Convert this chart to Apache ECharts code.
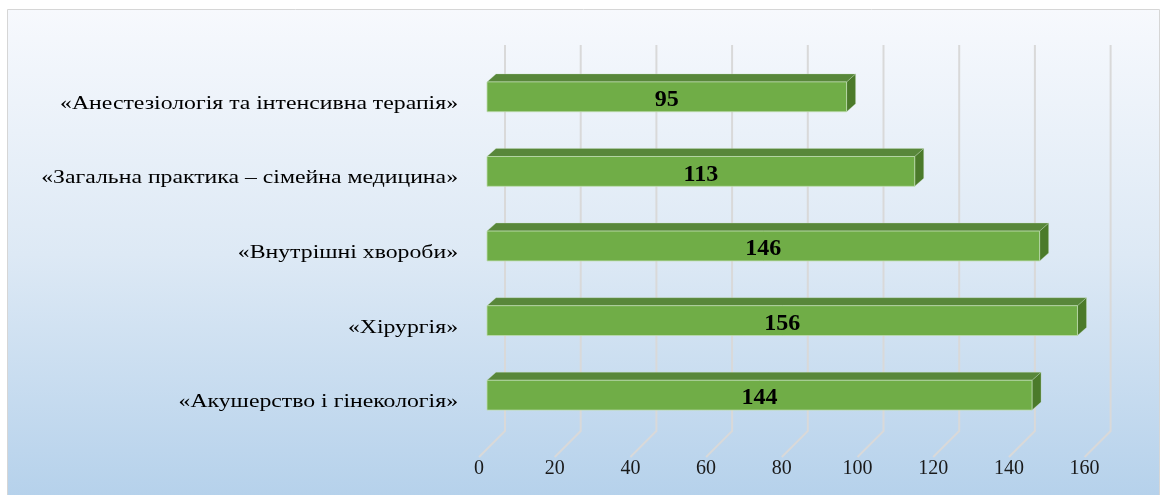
<!DOCTYPE html>
<html>
<head>
<meta charset="utf-8">
<script src="https://cdn.jsdelivr.net/npm/echarts@6/dist/echarts.min.js"></script>
<style>
html,body{margin:0;padding:0;background:#fff;}
#c{width:1163px;height:495px;}
</style>
</head>
<body>
<div id="c"></div>
<script>
const categories = [
  '«Анестезіологія та інтенсивна терапія»',
  '«Загальна практика – сімейна медицина»',
  '«Внутрішні хвороби»',
  '«Хірургія»',
  '«Акушерство і гінекологія»'
];
const values = [95, 113, 146, 156, 144];
const xTicks = [0, 20, 40, 60, 80, 100, 120, 140, 160];

const SERIF = '"Liberation Serif", "Times New Roman", serif';
const DX = 9, DY = -8;          // bar depth offset
const WALL_DX = 18;             // back wall offset from bar front
const FLOOR = 26;               // floor depth (45°)
const LABEL_GAP = 29;           // gap between category label and bar start
const LABEL_SCALE_X = 1.25;     // horizontal stretch of category labels

const chart = echarts.init(document.getElementById('c'), null, {renderer: 'canvas'});

chart.setOption({
  animation: false,
  graphic: [{
    type: 'rect', z: -10, silent: true,
    shape: {x: 7.5, y: 9.5, width: 1152, height: 490},
    style: {
      fill: new echarts.graphic.LinearGradient(0, 0, 0, 1, [
        {offset: 0, color: '#f7f9fd'},
        {offset: 0.5, color: '#dde9f5'},
        {offset: 1, color: '#b5d1eb'}
      ]),
      stroke: '#d6d6d6', lineWidth: 1
    }
  }],
  grid: [
    {left: 487, top: 59.5, width: 605.6, height: 373},
    {left: 479, top: 59.5, width: 605.6, height: 397.5}
  ],
  xAxis: [
    {gridIndex: 0, type: 'value', min: 0, max: 160, interval: 20, show: false},
    {gridIndex: 1, type: 'value', min: 0, max: 160, interval: 20,
      axisLine: {show: false}, axisTick: {show: false}, splitLine: {show: false},
      axisLabel: {fontFamily: SERIF, fontSize: 20, color: '#1a1a1a', margin: 2}}
  ],
  yAxis: [
    {gridIndex: 0, type: 'category', data: categories, inverse: true,
      axisLine: {show: false}, axisTick: {show: false}, splitLine: {show: false},
      axisLabel: {show: false}},
    {gridIndex: 1, type: 'value', show: false}
  ],
  series: [
    {
      type: 'custom', xAxisIndex: 0, yAxisIndex: 0, z: 1, silent: true,
      data: xTicks.map(v => [v, 0]),
      encode: {x: 0, y: 1},
      clip: false,
      renderItem: function (params, api) {
        const cs = params.coordSys;
        const x = api.coord([api.value(0), 0])[0];
        const top = cs.y - 14.5;
        const bot = cs.y + cs.height - 1.5;
        return {
          type: 'polyline',
          shape: {points: [[x + WALL_DX, top], [x + WALL_DX, bot], [x + WALL_DX - FLOOR, bot + FLOOR]]},
          style: {stroke: '#d9d9d9', lineWidth: 2, fill: null}
        };
      }
    },
    {
      // category labels (drawn as text, slightly stretched like the original)
      type: 'custom', xAxisIndex: 0, yAxisIndex: 0, z: 3, silent: true,
      data: categories.map((c, i) => [0, i]),
      encode: {x: 0, y: 1},
      clip: false,
      renderItem: function (params, api) {
        const p = api.coord([0, api.value(1)]);
        const x = p[0] - LABEL_GAP, y = p[1] + 7;
        return {
          type: 'text',
          x: x, y: y,
          scaleX: LABEL_SCALE_X,
          style: {text: categories[params.dataIndex], x: 0, y: 0,
            align: 'right', verticalAlign: 'middle',
            font: '19px ' + SERIF, fill: '#000'}
        };
      }
    },
    {
      type: 'custom', xAxisIndex: 0, yAxisIndex: 0, z: 2, silent: true,
      data: values.map((v, i) => [v, i]),
      encode: {x: 0, y: 1},
      clip: false,
      renderItem: function (params, api) {
        const val = api.value(0), cat = api.value(1);
        const p0 = api.coord([0, cat]);
        const p1 = api.coord([val, cat]);
        const h = api.size([0, 1])[1] * 0.4;
        const yT = p0[1] - h / 2, yB = p0[1] + h / 2;
        const x0 = p0[0], x1 = p1[0];
        return {
          type: 'group',
          children: [
            {type: 'polygon', shape: {points: [[x1, yT], [x1 + DX, yT + DY], [x1 + DX, yB + DY], [x1, yB]]},
              style: {fill: '#4b7a2a', stroke: 'rgba(200,225,190,0.5)', lineWidth: 0.6}},
            {type: 'polygon', shape: {points: [[x0, yT], [x0 + DX, yT + DY], [x1 + DX, yT + DY], [x1, yT]]},
              style: {fill: '#58873a', stroke: 'rgba(200,225,190,0.5)', lineWidth: 0.6}},
            {type: 'rect', shape: {x: x0, y: yT, width: x1 - x0, height: h},
              style: {fill: '#70ad47', stroke: 'rgba(190,220,175,0.8)', lineWidth: 1}},
            {type: 'text', style: {text: String(val), x: (x0 + x1) / 2, y: p0[1] + 3,
              align: 'center', verticalAlign: 'middle',
              font: 'bold 24px ' + SERIF, fill: '#000'}}
          ]
        };
      }
    }
  ]
});
</script>
</body>
</html>
